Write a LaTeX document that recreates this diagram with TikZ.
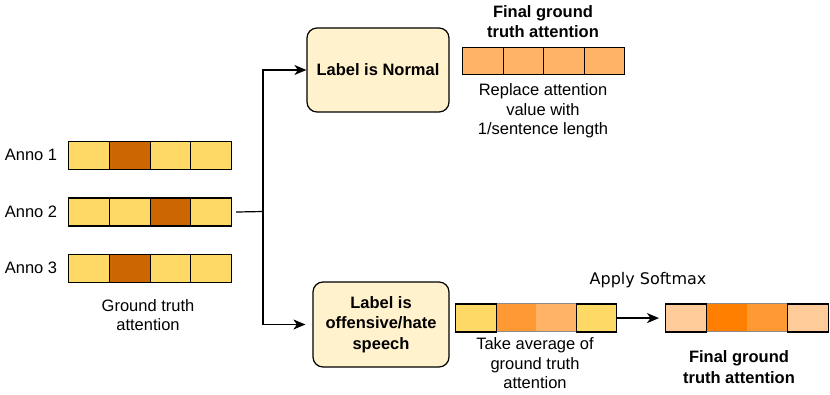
\documentclass[tikz,border=0pt]{standalone}
\usepackage{fontspec}
\setmainfont{Liberation Sans}
\newfontfamily\dejavu{DejaVu Sans}
\usetikzlibrary{arrows.meta}
\definecolor{yel}{HTML}{FFD966}
\definecolor{dark}{HTML}{CC6600}
\definecolor{lor}{HTML}{FFB366}
\definecolor{mor}{HTML}{FF9933}
\definecolor{bor}{HTML}{FF8000}
\definecolor{pale}{HTML}{FFCC99}
\definecolor{boxfill}{HTML}{FFF2CC}
\begin{document}
\begin{tikzpicture}[x=1pt,y=-1pt,
  font=\fontsize{16.5}{19.5}\selectfont,
  cell/.style={draw=black, line width=1.2pt, minimum height=28pt, inner sep=0pt, anchor=north west},
  softcell/.style={draw=none, minimum height=28pt, inner sep=0pt, anchor=north west},
  lbl/.style={align=center, inner sep=0pt},
  decision/.style={draw=black, line width=1.2pt, rounded corners=10pt, fill=boxfill, align=center, font=\fontsize{16.5}{20.5}\selectfont\bfseries, inner sep=0pt},
  arr/.style={line width=1.2pt, -{Stealth[length=12pt,width=10pt,inset=3.5pt]}},
  conn/.style={line width=1.2pt}]
\useasboundingbox (0,0) rectangle (830,395);

% Annotator rows
\foreach \r/\y/\ca/\cb/\cc/\cd in {1/141/yel/dark/yel/yel, 2/197.5/yel/yel/dark/yel, 3/254/yel/dark/yel/yel}{
  \node[cell, minimum width=40.75pt, fill=\ca] (a\r c1) at (68,\y) {};
  \node[cell, minimum width=40.75pt, fill=\cb] (a\r c2) at (108.75,\y) {};
  \node[cell, minimum width=40.75pt, fill=\cc] (a\r c3) at (149.5,\y) {};
  \node[cell, minimum width=40.75pt, fill=\cd] (a\r c4) at (190.25,\y) {};
}
\node[lbl] (l1) at (31,155) {Anno 1};
\node[lbl] (l2) at (31,211.5) {Anno 2};
\node[lbl] (l3) at (31,268) {Anno 3};
\node[lbl] (gt) at (148,315) {Ground truth\\attention};

% Decision boxes
\node[decision, minimum width=142pt, minimum height=84pt] (normal) at (378,70) {Label is Normal};
\node[decision, minimum width=136pt, minimum height=85pt] (off) at (381,324.5) {Label is\\offensive/hate\\speech};

% Top final attention
\node[lbl, font=\fontsize{16.5}{19.5}\selectfont\bfseries] (ftop) at (543,21.5) {Final ground\\truth attention};
\foreach \i/\x in {1/462,2/502.5,3/543,4/583.5}{
  \node[cell, minimum width=40.5pt, minimum height=27pt, fill=lor] (t\i) at (\x,47) {};
}
\node[lbl] (rep) at (543,111) {Replace attention\\value with\\1/sentence length};

% Averaged bar
\node[softcell, minimum width=40.5pt, fill=mor] (av2) at (495.5,303.5) {};
\node[softcell, minimum width=40pt, fill=lor] (av3) at (536,303.5) {};
\draw[line width=1.2pt, draw=black!45] (av2.north west) rectangle (av3.south east);
\node[cell, minimum width=40.5pt, fill=yel] (av1) at (455,303.5) {};
\node[cell, minimum width=40.25pt, fill=yel] (av4) at (576,303.5) {};
\node[lbl] (avg) at (535,363.5) {Take average of\\ground truth\\attention};

% Softmax bar
\node[softcell, minimum width=40.75pt, fill=bor] (sm2) at (705.75,303.5) {};
\node[softcell, minimum width=40.75pt, fill=mor] (sm3) at (746.5,303.5) {};
\draw[line width=1.2pt, draw=black!45] (sm2.north west) rectangle (sm3.south east);
\node[cell, minimum width=40.75pt, fill=pale] (sm1) at (665,303.5) {};
\node[cell, minimum width=40.75pt, fill=pale] (sm4) at (787.25,303.5) {};
\node[lbl, font=\dejavu\fontsize{16}{19}\selectfont] (soft) at (648,280) {Apply Softmax};
\node[lbl, font=\fontsize{16.5}{20.5}\selectfont\bfseries] (fbot) at (739,367) {Final ground\\truth attention};

% Connectors
\coordinate (j) at (263,211.5);
\draw[conn, shorten <=4pt] (a2c4.east) -- (j);
\draw[arr] (j) |- (normal.west);
\draw[arr, shorten >=7pt] (j) |- (off.west);
\draw[arr, shorten >=6pt] (av4.east) -- (sm1.west);
\end{tikzpicture}
\end{document}
